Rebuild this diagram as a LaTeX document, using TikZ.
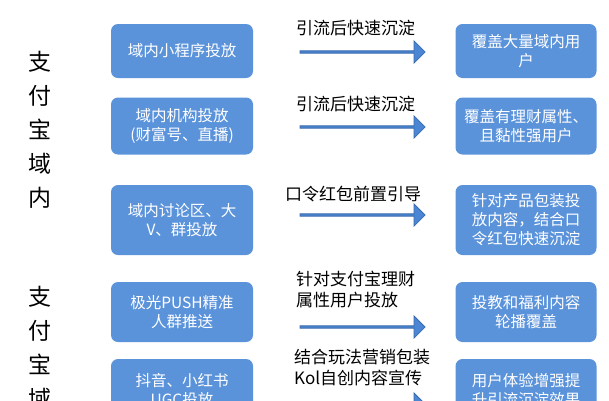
\documentclass[tikz,border=0pt]{standalone}
\usepackage{fontspec}
\setmainfont{Noto Sans CJK SC}
\usetikzlibrary{shapes.arrows}
\definecolor{bx}{HTML}{5B93DB}
\definecolor{ar}{HTML}{4A86D4}
\definecolor{arl}{HTML}{3A6AAE}
\begin{document}
\begin{tikzpicture}[x=1pt,y=-1pt,
 bxs/.style={fill=bx,rounded corners=7pt,text=white,font=\fontsize{15.5}{19}\selectfont,align=center,inner sep=2pt},
 lab/.style={font=\fontsize{17}{21}\selectfont,align=left,anchor=south west,inner sep=0},
 arw/.style={single arrow,draw=arl,fill=ar,minimum width=22pt,minimum height=125pt,single arrow head extend=3.5pt,inner sep=0,line width=0.8pt}]
\useasboundingbox (0,0) rectangle (609,400);
\clip (0,0) rectangle (609,400);
\fill[white] (0,0) rectangle (609,400);
\node[font=\fontsize{23}{34}\selectfont,align=center] (s1) at (40,130) {支\\付\\宝\\域\\内};
\node[font=\fontsize{23}{34}\selectfont,align=center,anchor=north] (s2) at (40,283) {支\\付\\宝\\域\\外};
\foreach \n/\y/\h/\lt/\rt in {
 1/51/54/{域内小程序投放}/{覆盖大量域内用\\户},
 2/126/57/{域内机构投放\\(财富号、直播)}/{覆盖有理财属性、\\且黏性强用户},
 3/220/70/{域内讨论区、大\\V、群投放}/{针对产品包装投\\放内容，结合口\\令红包快速沉淀},
 4/312/60/{极光PUSH精准\\人群推送}/{投教和福利内容\\轮播覆盖},
 5/390/62/{抖音、小红书\\UGC投放}/{用户体验增强提\\升引流沉淀效果}}{
 \node[bxs,minimum width=142pt,minimum height=\h pt] (l\n) at (182,\y) {\lt};
 \node[bxs,minimum width=141pt,minimum height=\h pt] (r\n) at (526,\y) {\rt};
}
\node[arw] (a1) at (362,52) {};
\node[arw] (a2) at (362,127) {};
\node[arw] (a3) at (362,215) {};
\node[arw] (a4) at (362,327) {};
\node[arw] (a5) at (362,404) {};
\node[lab] (t1) at (296,36) {引流后快速沉淀};
\node[lab] (t2) at (296,112) {引流后快速沉淀};
\node[lab] (t3) at (285,202) {口令红包前置引导};
\node[lab,align=left] (t4) at (296,308) {针对支付宝理财\\属性用户投放};
\node[lab,align=left] (t5) at (294,386) {结合玩法营销包装\\Kol自创内容宣传};
\end{tikzpicture}
\end{document}
